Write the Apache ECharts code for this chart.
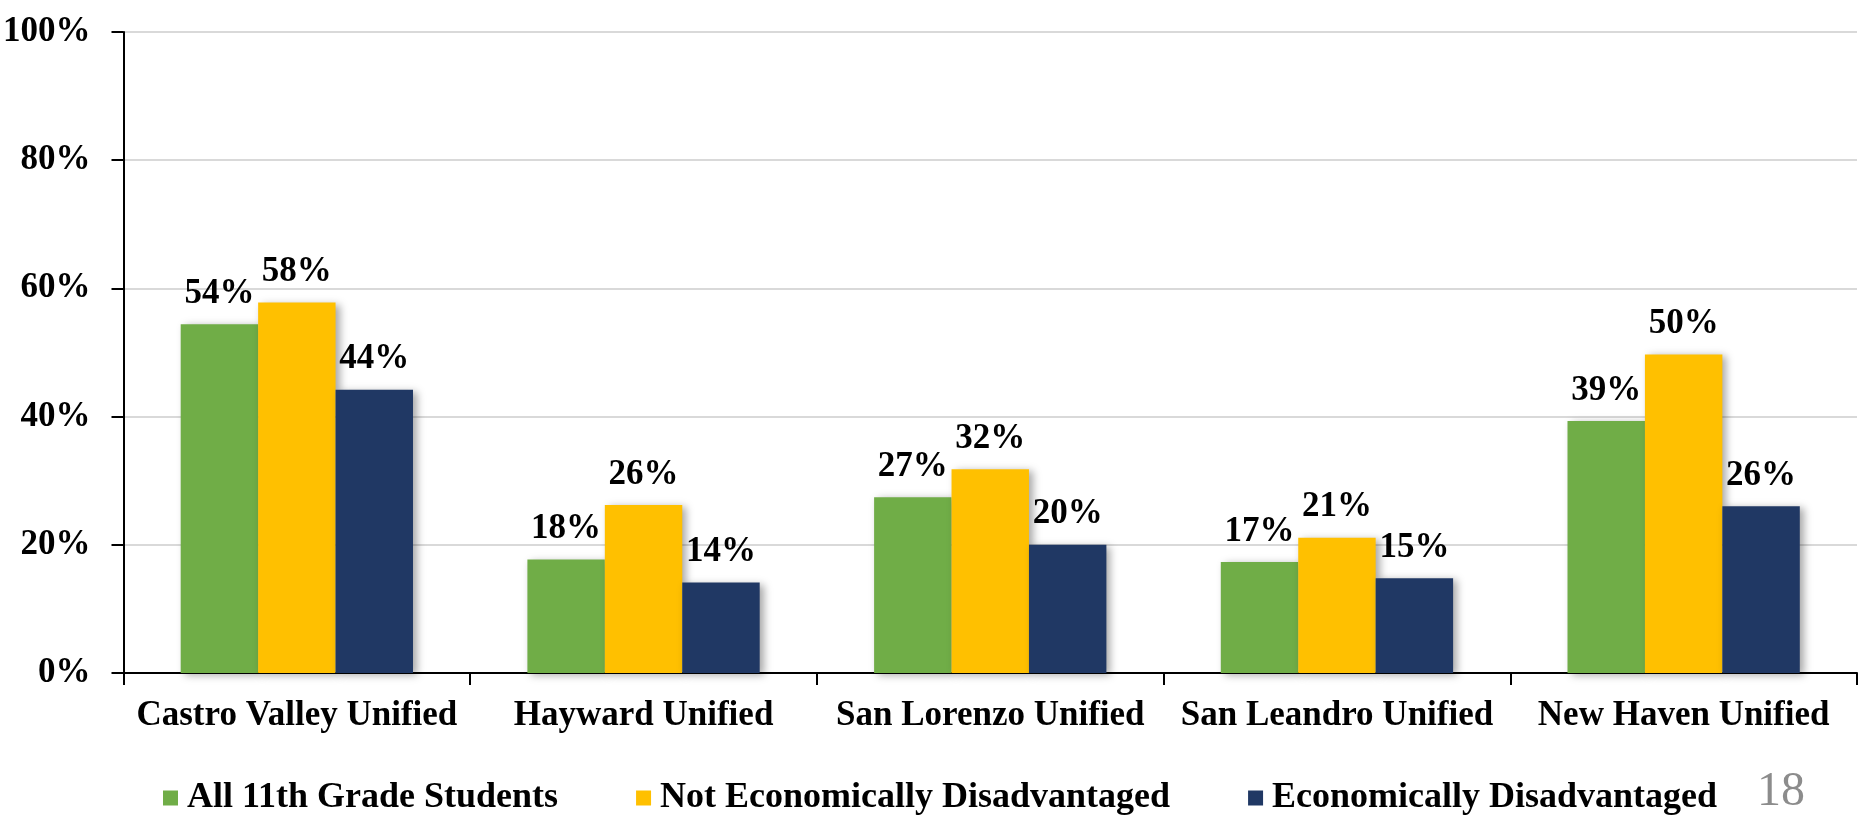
<!DOCTYPE html>
<html>
<head>
<meta charset="utf-8">
<script src="https://cdn.jsdelivr.net/npm/echarts@6/dist/echarts.min.js"></script>
<style>
html,body{margin:0;padding:0;background:#fff;}
#chart{width:1864px;height:822px;}
</style>
</head>
<body>
<div id="chart"></div>
<script>
const categories = ['Castro Valley Unified', 'Hayward Unified', 'San Lorenzo Unified', 'San Leandro Unified', 'New Haven Unified'];
const seriesNames = ['All 11th Grade Students', 'Not Economically Disadvantaged', 'Economically Disadvantaged'];
const allStudents = [54.4, 17.7, 27.4, 17.3, 39.3];
const notDisadvantaged = [57.8, 26.2, 31.8, 21.1, 49.7];
const disadvantaged = [44.2, 14.1, 20.0, 14.8, 26.0];
const yTicks = [0, 20, 40, 60, 80, 100];
const pageNumber = '18';

const colors = ['#70AD47', '#FFC000', '#203864'];
const FONT = '"Liberation Serif", "Times New Roman", serif';

const chart = echarts.init(document.getElementById('chart'));

function barSeries(name, data, color) {
  return {
    name: name,
    type: 'bar',
    data: data,
    barGap: '0%',
    barCategoryGap: '33%',
    itemStyle: {
      color: color,
      shadowColor: 'rgba(0,0,0,0.35)',
      shadowBlur: 8,
      shadowOffsetX: 4,
      shadowOffsetY: 2
    },
    label: {
      show: true,
      position: 'top',
      distance: 13,
      formatter: p => Math.round(p.value) + '%',
      fontFamily: FONT,
      fontWeight: 'bold',
      fontSize: 35,
      color: '#000'
    }
  };
}

chart.setOption({
  backgroundColor: '#fff',
  animation: false,
  grid: { left: 122, right: 7, top: 32, bottom: 149, containLabel: false },
  legend: {
    data: seriesNames,
    left: 163,
    top: 780,
    padding: 0,
    itemWidth: 15,
    itemHeight: 15,
    itemGap: 78,
    icon: 'rect',
    textStyle: { fontFamily: FONT, fontWeight: 'bold', fontSize: 36, color: '#000', padding: [0, 0, 0, 4] }
  },
  xAxis: {
    type: 'category',
    data: categories,
    axisLine: { lineStyle: { color: '#000', width: 2 } },
    axisTick: { show: true, length: 12, lineStyle: { color: '#000', width: 2 } },
    axisLabel: { fontFamily: FONT, fontWeight: 'bold', fontSize: 35, color: '#000', margin: 25, interval: 0 },
    splitLine: { show: false }
  },
  yAxis: {
    type: 'value',
    min: yTicks[0],
    max: yTicks[yTicks.length - 1],
    interval: yTicks[1] - yTicks[0],
    axisLine: { show: true, lineStyle: { color: '#000', width: 2 } },
    axisTick: { show: true, length: 12, lineStyle: { color: '#000', width: 2 } },
    axisLabel: { formatter: v => v + '%', fontFamily: FONT, fontWeight: 'bold', fontSize: 35, color: '#000', margin: 33 },
    splitLine: { show: true, lineStyle: { color: '#d9d9d9', width: 2 } }
  },
  series: [
    barSeries(seriesNames[0], allStudents, colors[0]),
    barSeries(seriesNames[1], notDisadvantaged, colors[1]),
    barSeries(seriesNames[2], disadvantaged, colors[2])
  ],
  graphic: [{
    type: 'text',
    left: 1757,
    top: 768,
    style: { text: pageNumber, fontFamily: FONT, fontSize: 48, fill: '#8c8c8c' }
  }]
});
</script>
</body>
</html>
